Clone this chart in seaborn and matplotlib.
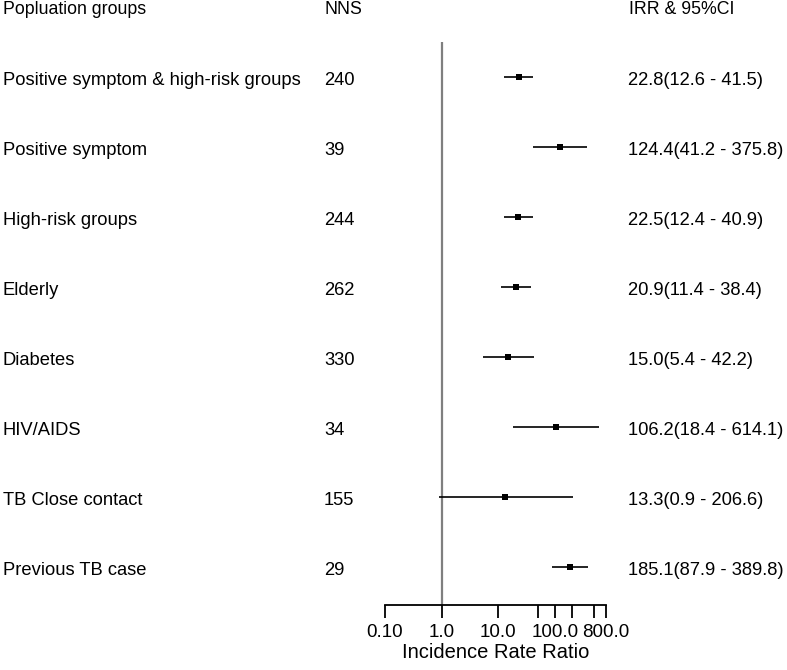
import matplotlib
matplotlib.use("Agg")
import matplotlib.pyplot as plt
import matplotlib.transforms as mtransforms
import numpy as np
import pandas as pd
import seaborn as sns

# données
groups = [
    "Positive symptom & high-risk groups",
    "Positive symptom",
    "High-risk groups",
    "Elderly",
    "Diabetes",
    "HIV/AIDS",
    "TB Close contact",
    "Previous TB case",
]
nns = [240, 39, 244, 262, 330, 34, 155, 29]
irr = [22.8, 124.4, 22.5, 20.9, 15.0, 106.2, 13.3, 185.1]
ci_low = [12.6, 41.2, 12.4, 11.4, 5.4, 18.4, 0.9, 87.9]
ci_high = [41.5, 375.8, 40.9, 38.4, 42.2, 614.1, 206.6, 389.8]

tick_values = [0.1, 1, 10, 50, 100, 200, 500, 800]
tick_labels = ["0.10", "1.0", "10.0", "", "100.0", "", "", "800.0"]

df = pd.DataFrame({
    "group": groups,
    "nns": nns,
    "irr": irr,
    "low": ci_low,
    "high": ci_high,
})
df["row"] = np.arange(len(df))

sns.set_theme(style="white")
plt.rcParams["font.family"] = ["Liberation Sans", "DejaVu Sans"]
plt.rcParams["text.color"] = "black"
plt.rcParams["axes.labelcolor"] = "black"
plt.rcParams["xtick.color"] = "black"

fig = plt.figure(figsize=(7.87, 6.70), dpi=100)
ax = fig.add_axes([385 / 787, 65 / 670, 221 / 787, 563 / 670])

# intervalles de confiance
ax.hlines(df["row"], df["low"], df["high"], color="black", linewidth=1.2, zorder=2)
sns.scatterplot(data=df, x="irr", y="row", marker="s", s=22, color="black",
                edgecolor="black", linewidth=0, ax=ax, zorder=3, legend=False)

# ligne de référence IRR = 1
ax.axvline(1, color="#7f7f7f", linewidth=1.6, zorder=1)

ax.set_xscale("log")
ax.set_xlim(0.1, 800)
ax.set_ylim(7.54, -0.5)
ax.set_xticks(tick_values)
ax.set_xticklabels(tick_labels, fontsize=13.5)
ax.xaxis.set_minor_locator(matplotlib.ticker.NullLocator())
ax.set_yticks([])
ax.set_ylabel("")
ax.set_xlabel("Incidence Rate Ratio", fontsize=14.5, labelpad=1)
ax.tick_params(axis="x", direction="out", length=9, width=1.3, pad=5,
               colors="black", bottom=True)

for side in ["top", "left", "right"]:
    ax.spines[side].set_visible(False)
ax.spines["bottom"].set_color("black")
ax.spines["bottom"].set_linewidth(1.3)
ax.patch.set_alpha(0)

# colonnes de texte
trans = mtransforms.blended_transform_factory(fig.transFigure, ax.transData)
for _, r in df.iterrows():
    y = r["row"] + 0.115
    ax.text(3 / 787, y, r["group"], transform=trans, fontsize=13.2,
            va="baseline", ha="left", clip_on=False, color="black")
    ax.text(324 / 787, y, f"{r['nns']}", transform=trans, fontsize=13.2,
            va="baseline", ha="left", clip_on=False, color="black")
    ax.text(628 / 787, y, f"{r['irr']:.1f}({r['low']:.1f} - {r['high']:.1f})",
            transform=trans, fontsize=13.2, va="baseline", ha="left",
            clip_on=False, color="black")

header_y = 1 - 14.5 / 670
fig.text(3 / 787, header_y, "Popluation groups", fontsize=12.8, va="baseline", color="black")
fig.text(325 / 787, header_y, "NNS", fontsize=12.8, va="baseline", color="black")
fig.text(629 / 787, header_y, "IRR & 95%CI", fontsize=12.8, va="baseline", color="black")

fig.savefig("out.png", dpi=100, facecolor="white")
